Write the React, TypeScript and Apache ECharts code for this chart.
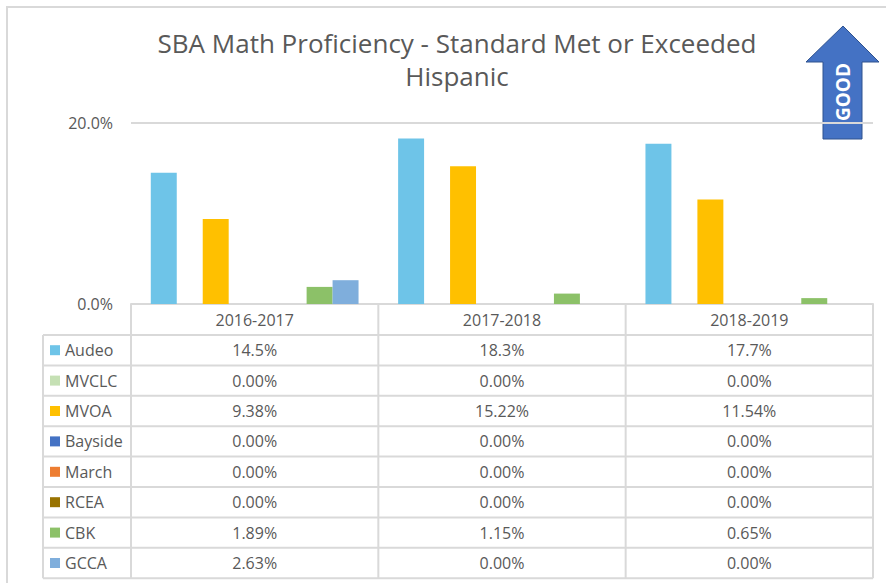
import React, { useEffect, useRef } from "react";
import * as echarts from "echarts";

const categories = ["2016-2017", "2017-2018", "2018-2019"];
const seriesNames = ["Audeo", "MVCLC", "MVOA", "Bayside", "March", "RCEA", "CBK", "GCCA"];
const audeo = [14.5, 18.3, 17.7];
const mvclc = [0, 0, 0];
const mvoa = [9.38, 15.22, 11.54];
const bayside = [0, 0, 0];
const march = [0, 0, 0];
const rcea = [0, 0, 0];
const cbk = [1.89, 1.15, 0.65];
const gcca = [2.63, 0, 0];
const tableLabels = [
  ["14.5%", "18.3%", "17.7%"],
  ["0.00%", "0.00%", "0.00%"],
  ["9.38%", "15.22%", "11.54%"],
  ["0.00%", "0.00%", "0.00%"],
  ["0.00%", "0.00%", "0.00%"],
  ["0.00%", "0.00%", "0.00%"],
  ["1.89%", "1.15%", "0.65%"],
  ["2.63%", "0.00%", "0.00%"],
];
const yTicks = [0, 20];

const seriesData = [audeo, mvclc, mvoa, bayside, march, rcea, cbk, gcca];
const colors = ["#6EC4E8", "#C5E0B4", "#FFC000", "#4472C4", "#ED7D31", "#997300", "#8CC168", "#7FAEDC"];

const FONT = "'Open Sans', sans-serif";
const TEXT = "#595959";
const LINE = "#D9D9D9";

export default function App() {
  const ref = useRef<HTMLDivElement>(null);
  useEffect(() => {
    if (!ref.current) return;
    const chart = echarts.init(ref.current, null, { renderer: "svg" });
    const W = 886;
    const H = 583;
    const gridLeft = 131;
    const gridRight = 873;
    const gridTop = 123;
    const zeroY = 304;
    const headerBottom = 335;
    const rowH = 30.4;
    const tableLeft = 43;
    const colW = (gridRight - gridLeft) / categories.length;
    const tableBottom = headerBottom + rowH * seriesNames.length;

    const graphic: any[] = [];
    graphic.push({ type: "rect", shape: { x: 7, y: 7, width: W + 10, height: H + 10 }, style: { fill: "none", stroke: LINE, lineWidth: 2 }, silent: true });
    for (let i = 0; i <= categories.length; i++) {
      const x = gridLeft + i * colW;
      graphic.push({ type: "line", shape: { x1: x, y1: zeroY, x2: x, y2: tableBottom }, style: { stroke: LINE, lineWidth: 2 } });
    }
    graphic.push({ type: "line", shape: { x1: tableLeft, y1: headerBottom, x2: tableLeft, y2: tableBottom }, style: { stroke: LINE, lineWidth: 2 } });
    for (let r = 0; r <= seriesNames.length; r++) {
      const y = headerBottom + r * rowH;
      graphic.push({ type: "line", shape: { x1: tableLeft, y1: y, x2: gridRight, y2: y }, style: { stroke: LINE, lineWidth: 2 } });
    }
    seriesNames.forEach((name, r) => {
      const cy = headerBottom + r * rowH + rowH / 2;
      graphic.push({ type: "rect", shape: { x: 50, y: cy - 5, width: 10, height: 10 }, style: { fill: colors[r] } });
      graphic.push({ type: "text", x: 65, y: cy, style: { text: name, font: `16px ${FONT}`, fill: TEXT, align: "left", verticalAlign: "middle" } });
      tableLabels[r].forEach((t, c) => {
        graphic.push({ type: "text", x: gridLeft + (c + 0.5) * colW, y: cy, style: { text: t, font: `16px ${FONT}`, fill: TEXT, align: "center", verticalAlign: "middle" } });
      });
    });
    graphic.push({
      type: "polygon",
      shape: { points: [[843, 26], [879, 62], [862, 62], [862, 139], [823, 139], [823, 62], [806, 62]] },
      style: { fill: "#4472C4", stroke: "#2F528F", lineWidth: 1 },
    });
    graphic.push({
      type: "text", x: 843, y: 92, rotation: Math.PI / 2,
      style: { text: "GOOD", font: `bold 19px ${FONT}`, fill: "#FFFFFF", align: "center", verticalAlign: "middle" },
    });

    chart.setOption({
      animation: false,
      backgroundColor: "#FFFFFF",
      title: {
        text: "SBA Math Proficiency - Standard Met or Exceeded\nHispanic",
        left: 452, top: 21, textAlign: "center",
        textStyle: { fontFamily: FONT, fontWeight: "normal", fontSize: 26, color: TEXT, lineHeight: 33 },
      },
      grid: { left: gridLeft, right: W - gridRight, top: gridTop, bottom: H - zeroY },
      xAxis: {
        type: "category",
        data: categories,
        axisLine: { show: true, lineStyle: { color: LINE, width: 2 } },
        axisTick: { show: false },
        axisLabel: { fontFamily: FONT, fontSize: 16, color: TEXT, margin: 8 },
      },
      yAxis: {
        type: "value",
        min: yTicks[0],
        max: yTicks[yTicks.length - 1],
        interval: yTicks[1] - yTicks[0],
        axisLine: { show: false },
        axisTick: { show: false },
        splitLine: { lineStyle: { color: LINE, width: 2 } },
        axisLabel: { fontFamily: FONT, fontSize: 16, color: TEXT, margin: 18, formatter: (v: number) => v.toFixed(1) + "%" },
      },
      series: seriesNames.map((name, i) => ({
        name,
        type: "bar",
        data: seriesData[i],
        barGap: "0%",
        barCategoryGap: "16%",
        itemStyle: { color: colors[i] },
      })),
      graphic,
    });
    return () => chart.dispose();
  }, []);
  return <div ref={ref} style={{ width: 886, height: 583, position: "absolute", left: 0, top: 0 }} />;
}
